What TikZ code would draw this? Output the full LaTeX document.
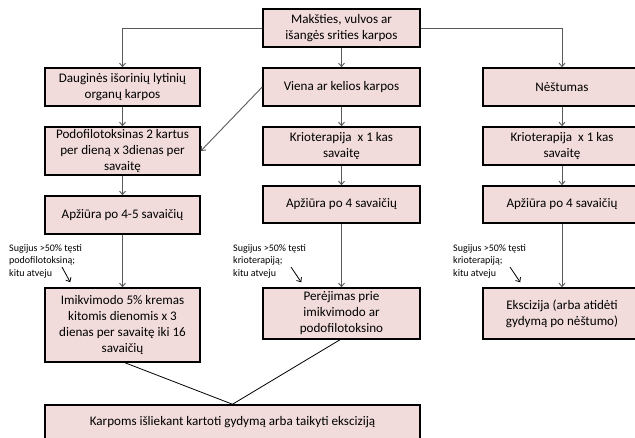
\documentclass[tikz,border=0pt]{standalone}
\usepackage{fontspec}
\setmainfont{Carlito}
\usetikzlibrary{arrows.meta,positioning}
\definecolor{boxpink}{HTML}{F2DCDB}
\definecolor{linegray}{HTML}{595959}
\tikzset{
  stepbox/.style={draw=black, line width=1.5pt, fill=boxpink, rectangle, align=center,
    inner sep=2pt, font=\fontsize{13.1}{16}\selectfont},
  note/.style={align=left, inner sep=0pt, font=\fontsize{10}{12.5}\selectfont},
  flow/.style={-{Straight Barb[length=3.5pt,width=6pt]}, linegray, line width=0.9pt},
  mergeline/.style={black, line width=0.8pt},
  hint/.style={-{Straight Barb[length=3.5pt,width=6pt]}, black, line width=0.8pt}
}

\begin{document}
\begin{tikzpicture}[x=1pt, y=-1pt]
    \useasboundingbox (0,0) rectangle (635,437);
    \clip (0,0) rectangle (635,437);

    \node[stepbox, minimum width=157pt, minimum height=38pt] (start) at (341.5,28) {Makšties, vulvos ar\\išangės srities karpos};

    \node[stepbox, minimum width=155pt, minimum height=38pt] (multi) at (122.5,87) {Dauginės išorinių lytinių\\organų karpos};
    \node[stepbox, minimum width=157pt, minimum height=38pt] (few) at (341.5,87) {Viena ar kelios karpos};
    \node[stepbox, minimum width=158pt, minimum height=38pt] (preg) at (562,87) {Nėštumas};

    \node[stepbox, minimum width=155pt, minimum height=48pt] (podo) at (122.5,151) {Podofilotoksinas 2 kartus\\per dieną x 3dienas per\\savaitę};
    \node[stepbox, minimum width=157pt, minimum height=38pt] (krioA) at (341.5,146) {Krioterapija \ x 1 kas\\savaitę};
    \node[stepbox, minimum width=158pt, minimum height=38pt] (krioB) at (562,146) {Krioterapija \ x 1 kas\\savaitę};

    \node[stepbox, minimum width=155pt, minimum height=38pt] (checkA) at (122.5,215) {Apžiūra po 4-5 savaičių};
    \node[stepbox, minimum width=157pt, minimum height=37pt] (checkB) at (341.5,204.5) {Apžiūra po 4 savaičių};
    \node[stepbox, minimum width=158pt, minimum height=37pt] (checkC) at (562,204.5) {Apžiūra po 4 savaičių};

    \node[stepbox, minimum width=155pt, minimum height=74pt] (imiq) at (122.5,325) {Imikvimodo 5\% kremas\\kitomis dienomis x 3\\dienas per savaitę iki 16\\savaičių};
    \node[stepbox, minimum width=157pt, minimum height=51pt] (switch) at (341.5,313.5) {Perėjimas prie\\imikvimodo ar\\podofilotoksino};
    \node[stepbox, minimum width=158pt, minimum height=51pt] (excis) at (562,313.5) {Ekscizija (arba atidėti\\gydymą po nėštumo)};

    \node[stepbox, minimum width=375pt, minimum height=35pt] (repeat) at (232.5,422.5) {Karpoms išliekant kartoti gydymą arba taikyti eksciziją};

    % pastabos prie rodykliu
    \node[note, anchor=north west] (noteA) at (9,244) {Sugijus >50\% tęsti\\podofilotoksiną;\\kitu atveju};
    \node[note, anchor=north west] (noteB) at (233,244) {Sugijus >50\% tęsti\\krioterapiją;\\kitu atveju};
    \node[note, anchor=north west] (noteC) at (453,244) {Sugijus >50\% tęsti\\krioterapiją;\\kitu atveju};

    \coordinate (tipA) at ([shift={(26,-5)}]imiq.north west);
    \coordinate (tipB) at ([shift={(39,-5)}]switch.north west);
    \coordinate (tipC) at ([shift={(38,-5)}]excis.north west);

    \draw[flow] (start.west) -| (multi.north);
    \draw[flow] (start.east) -| (preg.north);
    \draw[flow] (start) -- (few);
    \draw[flow] (few.west) -- (podo.east);

    \draw[flow] (multi) -- (podo);
    \draw[flow] (podo) -- (checkA);
    \draw[flow] (checkA) -- (imiq);

    \draw[flow] (few) -- (krioA);
    \draw[flow] (krioA) -- (checkB);
    \draw[flow] (checkB) -- (switch);

    \draw[flow] (preg) -- (krioB);
    \draw[flow] (krioB) -- (checkC);
    \draw[flow] (checkC) -- (excis);

    \draw[hint] ([shift={(53,-11)}]noteA.south west) -- (tipA);
    \draw[hint] ([shift={(58,-11)}]noteB.south west) -- (tipB);
    \draw[hint] ([shift={(57,-11)}]noteC.south west) -- (tipC);

    \draw[mergeline] ([xshift=2.5pt]imiq.south) -- (repeat.north);
    \draw[mergeline] ([xshift=-1.5pt]switch.south) -- (repeat.north);
  \end{tikzpicture}
\end{document}
